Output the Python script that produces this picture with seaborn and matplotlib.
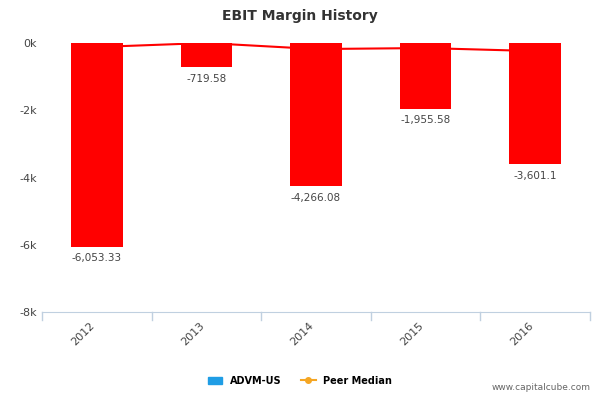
import matplotlib
matplotlib.use("Agg")
import matplotlib.pyplot as plt
import seaborn as sns
import pandas as pd
from matplotlib.lines import Line2D
from matplotlib.patches import Patch

years = ["2012", "2013", "2014", "2015", "2016"]
ebit_margin = [-6053.33, -719.58, -4266.08, -1955.58, -3601.1]
bar_labels = ["-6,053.33", "-719.58", "-4,266.08", "-1,955.58", "-3,601.1"]
peer_median = [-120, 0, -180, -150, -240]

df = pd.DataFrame({"year": years, "ebit": ebit_margin, "peer": peer_median})

fig = plt.figure(figsize=(6, 4), dpi=100)
ax = fig.add_axes([0.07, 0.22, 0.913, 0.6725])

sns.barplot(data=df, x="year", y="ebit", color="#ff0000", width=0.47, saturation=1, ax=ax)
ax.plot(range(len(years)), df["peer"], color="#ff0000", lw=1.5)
ax.plot([1], [peer_median[1]], "o", color="#ff0000", ms=4)

for i, (v, lab) in enumerate(zip(ebit_margin, bar_labels)):
    ax.text(i, v - 200, lab, ha="center", va="top", fontsize=7.5, color="#444444")

ax.set_ylim(-8000, 0)
ax.set_xlim(-0.5, 4.5)
ax.set_yticks([0, -2000, -4000, -6000, -8000])
ax.set_yticklabels(["0k", "-2k", "-4k", "-6k", "-8k"], fontsize=8, color="#444444")
ax.set_xticks(range(len(years)))
ax.set_xticklabels(years, rotation=45, ha="right", fontsize=8, color="#444444")
ax.tick_params(axis="x", length=0, pad=6)
ax.tick_params(axis="y", length=0)
for b in [0.5, 1.5, 2.5, 3.5]:
    ax.plot([b, b], [-8000, -8250], color="#c0d0e0", lw=1, clip_on=False)
ax.plot([-0.5, -0.5], [-8000, -8250], color="#c0d0e0", lw=1, clip_on=False)
ax.plot([4.5, 4.5], [-8000, -8250], color="#c0d0e0", lw=1, clip_on=False)
ax.set_xlabel("")
ax.set_ylabel("")
for s in ["top", "right", "left"]:
    ax.spines[s].set_visible(False)
ax.spines["bottom"].set_color("#c0d0e0")

fig.text(0.5, 0.96, "EBIT Margin History", ha="center", va="center",
         fontsize=10, fontweight="bold", color="#333333")

handles = [Patch(color="#1f9de5"),
           Line2D([0], [0], color="#f5a623", marker="o", ms=4, lw=1.5)]
fig.legend(handles, ["ADVM-US", "Peer Median"], loc="center", bbox_to_anchor=(0.5, 0.048),
           ncol=2, frameon=False, fontsize=7, handlelength=1.5, columnspacing=2,
           prop={"weight": "bold", "size": 7})
fig.text(0.985, 0.02, "www.capitalcube.com", ha="right", va="bottom", fontsize=6.5, color="#666666")

fig.savefig("out.png", dpi=100)
